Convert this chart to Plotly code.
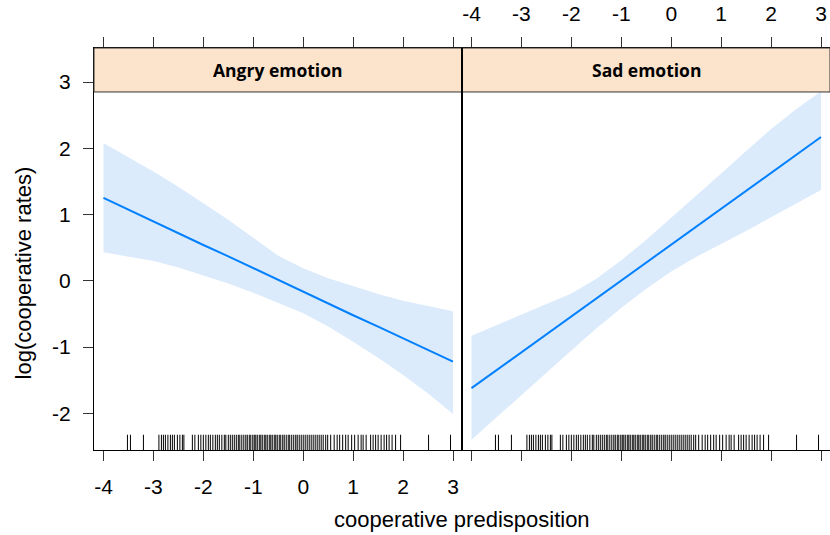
import plotly.graph_objects as go

# ---- data ----
x_grid = [-4, -3.5, -3, -2.5, -2, -1.5, -1, -0.5, 0, 0.5, 1, 1.5, 2, 2.5, 3]

angry_fit = [1.25, 1.07, 0.90, 0.72, 0.54, 0.37, 0.19, 0.01, -0.16, -0.34, -0.52,
             -0.69, -0.87, -1.04, -1.22]
angry_upper = [2.08, 1.87, 1.65, 1.42, 1.17, 0.92, 0.65, 0.38, 0.19, 0.04, -0.08,
               -0.20, -0.30, -0.38, -0.46]
angry_lower = [0.43, 0.37, 0.30, 0.20, 0.08, -0.04, -0.18, -0.33, -0.49, -0.69, -0.92,
               -1.16, -1.42, -1.70, -2.01]

sad_fit = [-1.62, -1.35, -1.08, -0.81, -0.54, -0.27, 0.00, 0.27, 0.54, 0.82, 1.09,
           1.36, 1.63, 1.90, 2.17]
sad_upper = [-0.83, -0.67, -0.51, -0.36, -0.19, 0.03, 0.31, 0.62, 0.95, 1.28, 1.62,
             1.96, 2.29, 2.59, 2.86]
sad_lower = [-2.40, -2.07, -1.73, -1.39, -1.05, -0.72, -0.41, -0.12, 0.14, 0.36, 0.55,
             0.75, 0.96, 1.17, 1.37]

rug = [-3.52, -3.46, -3.20,
       -2.89, -2.84, -2.80, -2.76, -2.71, -2.66, -2.62, -2.58, -2.52, -2.47, -2.42, -2.39,
       -2.22, -2.17, -2.10, -2.05, -2.00, -1.95, -1.90, -1.86, -1.81, -1.76, -1.72, -1.68,
       -1.63, -1.58, -1.55, -1.50, -1.46, -1.42, -1.38, -1.34, -1.30, -1.27, -1.23, -1.19,
       -1.15, -1.12, -1.08, -1.05, -1.01, -0.98, -0.95, -0.92, -0.88, -0.85, -0.82, -0.78,
       -0.75, -0.72, -0.68, -0.65, -0.62, -0.58, -0.55, -0.52, -0.48, -0.45, -0.41, -0.38,
       -0.34, -0.30, -0.27, -0.23, -0.19, -0.15, -0.12, -0.08, -0.04, 0.00, 0.04, 0.08,
       0.12, 0.16, 0.20, 0.24, 0.28, 0.32, 0.36, 0.40, 0.45, 0.49, 0.55, 0.62, 0.68, 0.73,
       0.79, 0.85, 0.90, 0.97, 1.03, 1.10, 1.16, 1.20, 1.26, 1.35, 1.40, 1.45, 1.50, 1.56,
       1.62, 1.67, 1.72, 1.78, 1.85, 1.95, 2.51, 2.95]

panels = ["Angry emotion", "Sad emotion"]
x_ticks = [-4, -3, -2, -1, 0, 1, 2, 3]
x_tick_labels = ["-4", "-3", "-2", "-1", "0", "1", "2", "3"]
y_ticks = [-2, -1, 0, 1, 2, 3]
y_tick_labels = ["-2", "-1", "0", "1", "2", "3"]

# ---- styling ----
XR = [-4.19, 3.18]
YR = [-2.553, 3.513]
LINE_COL = "#0080ff"
BAND_COL = "#dcebfc"
STRIP_COL = "#fce4cc"
FONT = "Liberation Sans, Arial, sans-serif"
RUG_H = 0.23
STRIP_Y0 = 0.8906

fig = go.Figure()

series = [(angry_fit, angry_upper, angry_lower, "x", "y"),
          (sad_fit, sad_upper, sad_lower, "x2", "y2")]

for fit, up, lo, xa, ya in series:
    fig.add_trace(go.Scatter(
        x=x_grid + x_grid[::-1], y=up + lo[::-1], fill="toself",
        fillcolor=BAND_COL, line=dict(width=0),
        mode="lines", hoverinfo="skip", showlegend=False, xaxis=xa, yaxis=ya))
    fig.add_trace(go.Scatter(
        x=x_grid, y=fit, mode="lines", line=dict(color=LINE_COL, width=2),
        showlegend=False, xaxis=xa, yaxis=ya))
    rx, ry = [], []
    for v in rug:
        rx += [v, v, None]
        ry += [YR[0], YR[0] + RUG_H, None]
    fig.add_trace(go.Scatter(
        x=rx, y=ry, mode="lines", line=dict(color="black", width=1),
        hoverinfo="skip", showlegend=False, xaxis=xa, yaxis=ya))

tick_font = dict(family=FONT, size=21, color="black")
common_x = dict(range=XR, tickvals=x_ticks, ticktext=x_tick_labels, ticks="outside",
                ticklen=10, tickcolor="#333", tickwidth=1, showline=True,
                linecolor="black", linewidth=1, mirror="allticks", showgrid=False,
                zeroline=False, tickfont=tick_font, automargin=False,
                ticklabelstandoff=8)

fig.update_layout(
    width=830, height=535,
    margin=dict(l=93.5, r=0.4, t=47.7, b=85),
    paper_bgcolor="white", plot_bgcolor="white",
    xaxis=dict(domain=[0, 0.5], anchor="y", side="bottom", **common_x),
    xaxis2=dict(domain=[0.5, 1], anchor="y2", side="top", **common_x),
    yaxis=dict(domain=[0, 1], range=YR, tickvals=y_ticks, ticktext=y_tick_labels,
               ticks="outside", ticklen=10, tickcolor="#333", showline=True,
               linecolor="black", linewidth=1, mirror=True, showgrid=False,
               zeroline=False, tickfont=tick_font, automargin=False,
               ticklabelstandoff=8),
    yaxis2=dict(domain=[0, 1], range=YR, anchor="x2", showticklabels=False,
                ticks="", showline=True, linecolor="black", linewidth=1,
                mirror=True, showgrid=False, zeroline=False),
)

for i, name in enumerate(panels):
    x0, x1 = 0.5 * i, 0.5 * (i + 1)
    fig.add_shape(type="rect", xref="paper", yref="paper", x0=x0, x1=x1,
                  y0=STRIP_Y0, y1=1, fillcolor=STRIP_COL,
                  line=dict(color="#333", width=1), layer="above")
    fig.add_annotation(x=(x0 + x1) / 2, y=(STRIP_Y0 + 1) / 2, xref="paper",
                       yref="paper", text="<b>%s</b>" % name, showarrow=False,
                       font=dict(family="Open Sans, sans-serif", size=17.5, color="black"),
                       xanchor="center", yanchor="middle")

# separator between panels (double frame line)
fig.add_shape(type="line", xref="paper", yref="paper", x0=0.5, x1=0.5, y0=0, y1=1,
              line=dict(color="black", width=2), layer="above")

fig.add_annotation(x=0.5, y=-0.174, xref="paper", yref="paper",
                   text="cooperative predisposition", showarrow=False,
                   font=dict(family=FONT, size=22, color="black"),
                   xanchor="center", yanchor="middle")
fig.add_annotation(x=-0.096, y=0.44, xref="paper", yref="paper",
                   text="log(cooperative rates)", showarrow=False, textangle=-90,
                   font=dict(family=FONT, size=22, color="black"),
                   xanchor="center", yanchor="middle")

fig.write_html("out.html")
